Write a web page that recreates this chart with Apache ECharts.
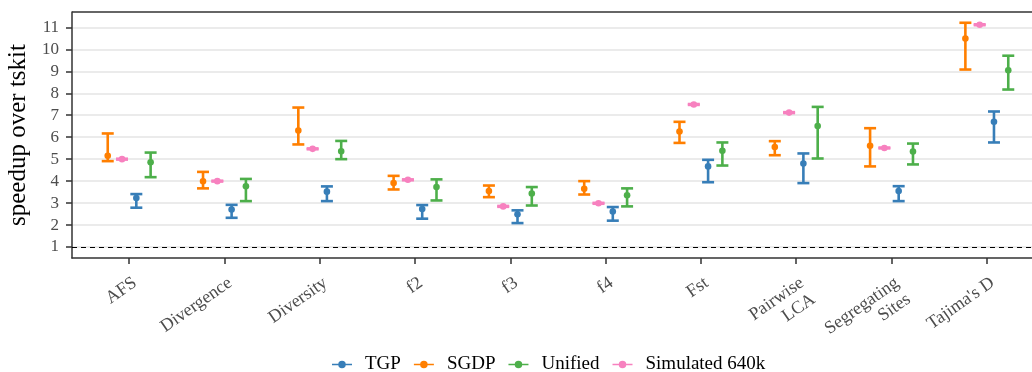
<!DOCTYPE html>
<html>
<head>
<meta charset="utf-8">
<script src="https://cdn.jsdelivr.net/npm/echarts@6/dist/echarts.min.js"></script>
<style>
  html, body { margin: 0; padding: 0; background: #fff; }
  #chart { width: 1032px; height: 372px; }
</style>
</head>
<body>
<div id="chart"></div>
<script>
// benchmark names
const categories = ["AFS", "Divergence", "Diversity", "f2", "f3", "f4", "Fst",
  "Pairwise\nLCA", "Segregating\nSites", "Tajima's D"];
const yTicks = [1, 2, 3, 4, 5, 6, 7, 8, 9, 10, 11];

// TGP
const tgpMid = [3.23, 2.71, 3.52, 2.73, 2.49, 2.62, 4.67, 4.80, 3.55, 6.70];
const tgpLow = [2.79, 2.33, 3.09, 2.29, 2.09, 2.20, 3.95, 3.91, 3.09, 5.76];
const tgpHigh = [3.41, 2.92, 3.76, 2.91, 2.67, 2.82, 4.97, 5.26, 3.77, 7.17];
// SGDP
const sgdpMid = [5.15, 3.99, 6.30, 3.91, 3.55, 3.65, 6.26, 5.55, 5.61, 10.49];
const sgdpLow = [4.91, 3.67, 5.67, 3.62, 3.27, 3.39, 5.74, 5.18, 4.67, 9.08];
const sgdpHigh = [6.17, 4.42, 7.35, 4.24, 3.80, 4.00, 6.70, 5.82, 6.41, 11.21];
// Unified
const uniMid = [4.86, 3.77, 5.36, 3.73, 3.44, 3.36, 5.38, 6.51, 5.35, 9.05];
const uniLow = [4.18, 3.09, 5.00, 3.12, 2.89, 2.85, 4.71, 5.03, 4.76, 8.17];
const uniHigh = [5.30, 4.10, 5.83, 4.08, 3.73, 3.67, 5.76, 7.38, 5.71, 9.71];
// Simulated 640k
const simMid = [5.00, 4.00, 5.47, 4.06, 2.85, 2.99, 7.49, 7.12, 5.51, 11.12];
const simLow = [4.98, 3.98, 5.45, 4.04, 2.83, 2.97, 7.47, 7.10, 5.49, 11.10];
const simHigh = [5.02, 4.02, 5.49, 4.08, 2.87, 3.01, 7.51, 7.14, 5.53, 11.14];

const baseline = 1;

const FONT = "Liberation Serif";

function toData(mid, low, high) {
  return mid.map((m, i) => [i, low[i], high[i], m]);
}

// draws a whisker + caps + point, dodged by offset (in category units)
function errorBar(offset) {
  return function (params, api) {
    const x = api.value(0) + offset;
    const lo = api.coord([x, api.value(1)]);
    const hi = api.coord([x, api.value(2)]);
    const mid = api.coord([x, api.value(3)]);
    const color = api.visual("color");
    const half = 6;
    const st = { stroke: color, lineWidth: 2.6 };
    return {
      type: "group",
      children: [
        { type: "line", shape: { x1: lo[0], y1: lo[1], x2: hi[0], y2: hi[1] }, style: st },
        { type: "line", shape: { x1: lo[0] - half, y1: lo[1], x2: lo[0] + half, y2: lo[1] }, style: st },
        { type: "line", shape: { x1: hi[0] - half, y1: hi[1], x2: hi[0] + half, y2: hi[1] }, style: st },
        { type: "circle", shape: { cx: mid[0], cy: mid[1], r: 3.3 }, style: { fill: color } }
      ]
    };
  };
}

const legendIcon = "path://M0,4.1h24v1.8h-24z M7.5,5a4.5,4.5 0 1,1 9,0a4.5,4.5 0 1,1 -9,0z";

const chart = echarts.init(document.getElementById("chart"));
const option = {
  animation: false,
  grid: { left: 72, top: 12, width: 972, height: 246, outerBoundsMode: "none" },
  legend: {
    top: 350,
    left: 327,
    icon: legendIcon,
    itemWidth: 20,
    itemHeight: 8,
    itemGap: 13,
    data: ["TGP", "SGDP", "Unified", "Simulated 640k"],
    textStyle: { fontFamily: FONT, fontSize: 19, color: "#000", padding: [0, 0, 0, 8] }
  },
  xAxis: {
    type: "value",
    min: -0.6,
    max: 9.6,
    axisLine: { onZero: false, lineStyle: { color: "#333", width: 1.5 } },
    axisTick: { customValues: categories.map((c, i) => i), length: 6, lineStyle: { color: "#333", width: 1.5 } },
    axisLabel: {
      customValues: categories.map((c, i) => i),
      formatter: v => categories[Math.round(v)],
      rotate: 35,
      align: "right",
      verticalAlign: "top",
      fontFamily: FONT,
      fontSize: 18,
      color: "#4d4d4d",
      margin: 15,
      lineHeight: 20
    },
    splitLine: { show: false }
  },
  yAxis: {
    type: "value",
    min: 0.5,
    max: 11.7,
    name: "speedup over tskit",
    nameLocation: "middle",
    nameGap: 40,
    nameTextStyle: { fontFamily: FONT, fontSize: 25, color: "#000" },
    axisLine: { show: true, onZero: false, lineStyle: { color: "#333", width: 1.5 } },
    axisTick: { show: true, customValues: yTicks, length: 6, lineStyle: { color: "#333", width: 1.5 } },
    axisLabel: { customValues: yTicks, fontFamily: FONT, fontSize: 17, color: "#4d4d4d", margin: 13 },
    splitLine: { show: true, lineStyle: { color: "#ebebeb", width: 2 } }
  },
  series: [
    {
      name: "TGP", type: "custom", color: "#377eb8",
      renderItem: errorBar(0.075),
      data: toData(tgpMid, tgpLow, tgpHigh),
      encode: { x: 0, y: [1, 2, 3] },
      z: 3
    },
    {
      name: "SGDP", type: "custom", color: "#ff7f00",
      renderItem: errorBar(-0.225),
      data: toData(sgdpMid, sgdpLow, sgdpHigh),
      encode: { x: 0, y: [1, 2, 3] },
      z: 3
    },
    {
      name: "Unified", type: "custom", color: "#4daf4a",
      renderItem: errorBar(0.225),
      data: toData(uniMid, uniLow, uniHigh),
      encode: { x: 0, y: [1, 2, 3] },
      z: 3
    },
    {
      name: "Simulated 640k", type: "custom", color: "#f781bf",
      renderItem: errorBar(-0.075),
      data: toData(simMid, simLow, simHigh),
      encode: { x: 0, y: [1, 2, 3] },
      z: 3,
      markLine: {
        silent: true,
        symbol: "none",
        label: { show: false },
        lineStyle: { color: "#000", type: [5, 4], width: 1.2 },
        data: [{ yAxis: baseline }]
      }
    }
  ]
};
chart.setOption(option);
// top border of the panel
chart.setOption({
  graphic: [{
    type: "line",
    shape: { x1: 72, y1: 12, x2: 1032, y2: 12 },
    style: { stroke: "#333", lineWidth: 1.5 }
  }]
});
</script>
</body>
</html>
